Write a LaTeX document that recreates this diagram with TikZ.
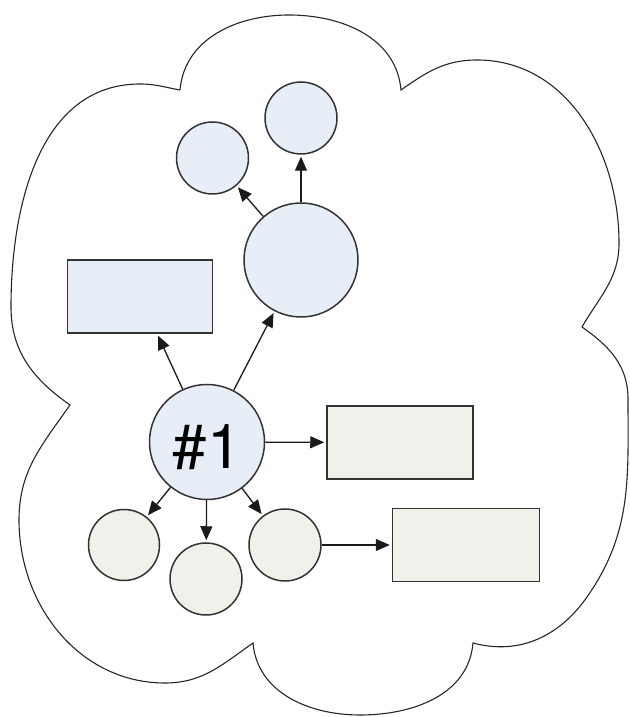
\documentclass[tikz,border=0pt]{standalone}
\usepackage{fontspec}
\setmainfont{TeX Gyre Heros}
\usetikzlibrary{arrows.meta}
\definecolor{bluefill}{HTML}{E8EEF7}
\definecolor{greenfill}{HTML}{EFF1EA}
\definecolor{edge}{HTML}{333333}
\definecolor{arr}{HTML}{1A1A1A}
\tikzset{
  bcirc/.style={circle, draw=edge, line width=1.5pt, fill=bluefill, inner sep=0pt},
  gcirc/.style={circle, draw=edge, line width=1.5pt, fill=greenfill, inner sep=0pt},
  brect/.style={rectangle, draw=edge, line width=1.5pt, fill=bluefill, inner sep=0pt},
  grect/.style={rectangle, draw=edge, line width=1.5pt, fill=greenfill, inner sep=0pt},
  conn/.style={draw=arr, line width=1.3pt, -{Triangle[length=14pt,width=12pt]}, shorten >=2pt},
  cloudline/.style={draw=black!85, line width=1.1pt}
}
\begin{document}
\begin{tikzpicture}[x=1pt,y=1pt]
\useasboundingbox (0,0) rectangle (629,717);
% cloud
\draw[cloudline]
  (180,627) to[out=85,in=180] (289,702) to[out=0,in=95] (401,627)
  to[out=35,in=180] (477,657) to[out=0,in=90] (619,474) to[out=-90,in=60] (582,390)
  to[out=-35,in=90] (628,318) to[out=-90,in=55] (587,120) to[out=235,in=-15] (473,74)
  to[out=-95,in=0] (360,2) to[out=180,in=-85] (253,74)
  to[out=215,in=0] (165,34) to[out=180,in=-90] (19,197) to[out=90,in=-125] (70,312)
  to[out=145,in=-90] (11,410) to[out=90,in=180] (140,633) to[out=0,in=170] (180,627);
% nodes
\node[bcirc, minimum size=72pt] (tr) at (301,599) {};
\node[bcirc, minimum size=72pt] (tl) at (212.5,559) {};
\node[bcirc, minimum size=114pt] (big) at (301,457) {};
\node[brect, minimum width=145pt, minimum height=73pt] (brc) at (140,420.5) {};
\node[bcirc, minimum size=115pt, font=\fontsize{62}{62}\selectfont, text height=53pt, text depth=0pt] (n1) at (207,275) {\#1};
\node[grect, minimum width=146pt, minimum height=73pt] (r1) at (400,274.5) {};
\node[grect, minimum width=147pt, minimum height=73pt] (r2) at (466,172) {};
\node[gcirc, minimum size=71pt] (bl) at (124,172) {};
\node[gcirc, minimum size=72pt] (bm) at (206,138) {};
\node[gcirc, minimum size=72pt] (br) at (285,172) {};
% connectors
\draw[conn] (n1) -- (brc);
\draw[conn] (n1) -- (big);
\draw[conn] (big) -- (tl);
\draw[conn] (big) -- (tr);
\draw[conn] (n1) -- (r1);
\draw[conn] (n1) -- (bl);
\draw[conn] (n1) -- (bm);
\draw[conn] (n1) -- (br);
\draw[conn] (br) -- (r2);
\end{tikzpicture}
\end{document}
